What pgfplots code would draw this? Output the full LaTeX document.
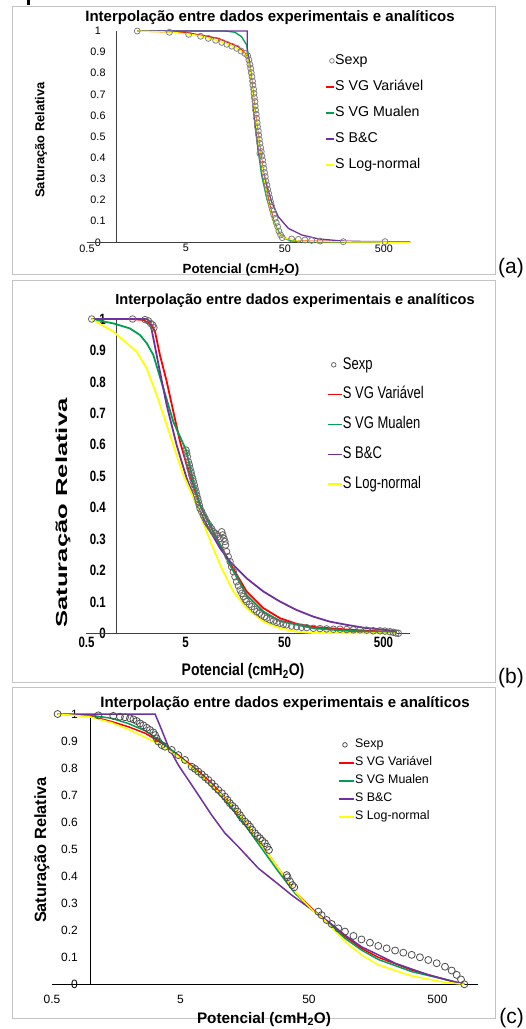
\documentclass[border=0pt]{standalone}
\usepackage{fontspec}
\setmainfont{Liberation Sans}
\usepackage{graphicx}
\usepackage{pgfplots}
\pgfplotsset{compat=1.18}

\definecolor{vgred}{HTML}{FF0000}
\definecolor{vggreen}{HTML}{00A050}
\definecolor{bcpurple}{HTML}{7030A0}
\definecolor{lnyellow}{HTML}{FFFF00}
\definecolor{framegray}{HTML}{C4C4C4}
\definecolor{axgray}{HTML}{404040}
\definecolor{expgray}{HTML}{808080}

\newcommand{\fs}[1]{\fontsize{#1}{#1}\selectfont}
\newcommand{\tall}[1]{\scalebox{1}[1.3]{#1}}

\pgfplotsset{
  sexpleg/.style={legend image code/.code={\draw[##1, mark size=2.3pt] plot coordinates {(6pt,0pt)};}},
  lineleg/.style={legend image code/.code={\draw[##1, line width=1.4pt] (0pt,0pt) -- (#1,0pt);}},
}

\begin{document}
\begin{tikzpicture}[x=1pt,y=1pt]
\useasboundingbox (0,0) rectangle (526,-1029);

% bit of the caption line above, cut off by the page edge
\fill[black] (26.5,0) rectangle (29.5,-4.5);

% frames
\draw[framegray, line width=1pt] (12.7,-6) rectangle (495.5,-274.5);
\draw[framegray, line width=1pt] (12.7,-280.7) rectangle (495.5,-682.2);
\draw[framegray, line width=1pt] (12.7,-687.3) rectangle (495.5,-1018.3);

%%%%%%%%%%%%%%%%%%%% (a)
\begin{axis}[
  xmode=log, scale only axis, enlargelimits=false, clip=false,
  at={(87pt,-242.3pt)}, anchor=south west,
  width=323pt, height=211.3pt, xmin=0.5, xmax=916, ymin=0, ymax=1,
  axis line style={draw=none}, major tick length=0pt, minor tick length=0pt,
  xminorticks=false, yminorticks=false,
  xtick={0.5,5,50,500}, xticklabels={0.5,5,50,500},
  ytick={0,0.1,0.2,0.3,0.4,0.5,0.6,0.7,0.8,0.9,1},
  yticklabels={0,0.1,0.2,0.3,0.4,0.5,0.6,0.7,0.8,0.9,1},
  yticklabel style={font=\fs{10.8}, anchor=center, inner sep=0pt, xshift=11pt},
  xticklabel style={font=\fs{10.8}, anchor=north, inner sep=0pt, yshift=-2pt},
  legend cell align=left, lineleg=8pt,
  legend style={at={(0.737,0.891)}, anchor=north west, draw=none, fill=none,
    font=\fs{14.2}, row sep=12.7pt, inner sep=0pt, column sep=0.5pt,
    nodes={inner sep=0pt, text height=10.2pt, text depth=3.1pt}},
]
\draw[axgray, line width=1.2pt] (axis cs:0.5,0) -- (axis cs:916,0);
\draw[axgray, line width=1.2pt] (axis cs:1,0) -- (axis cs:1,1);

\addplot[only marks, mark=o, mark size=3pt, color=expgray, mark options={line width=0.8pt}, sexpleg] coordinates {
(1.61,1.0)(3.40,0.994)(5.32,0.984)(7.03,0.975)(8.41,0.965)(9.97,0.956)(11.5,0.946)
(12.9,0.937)(14.5,0.928)(16.3,0.918)(18.0,0.905)(19.7,0.894)(21.0,0.883)(21.6,0.863)
(22.1,0.842)(22.5,0.823)(22.8,0.803)(23.2,0.784)(23.5,0.763)(23.7,0.744)(24.1,0.724)
(24.3,0.705)(24.5,0.685)(24.9,0.666)(25.0,0.645)(25.2,0.626)(25.6,0.606)(25.8,0.587)
(26.2,0.566)(26.4,0.547)(26.9,0.527)(27.1,0.508)(27.5,0.487)(27.9,0.468)(28.4,0.448)
(27.9,0.421)(28.8,0.429)(29.2,0.408)(29.7,0.390)(30.2,0.369)(30.6,0.350)(31.1,0.330)
(31.6,0.311)(32.1,0.290)(32.9,0.271)(33.4,0.251)(34.2,0.232)(35.0,0.211)(35.8,0.192)
(36.6,0.172)(37.5,0.153)(38.4,0.132)(39.6,0.113)(40.8,0.093)(42.1,0.074)(43.4,0.053)
(45.2,0.035)(46.9,0.022)(58.4,0.016)(68.2,0.014)(79.6,0.011)(92.9,0.009)(113,0.006)
(194,0.003)(512,0.003)
};
\addlegendentry{Sexp}
\addplot[vgred, line width=1.3pt, mark=none] coordinates {
(1.61,1.0)(4.89,0.994)(10.6,0.965)(16.9,0.926)(20.5,0.886)(22.5,0.807)(24.3,0.666)
(26.2,0.539)(28.4,0.421)(30.6,0.311)(34.4,0.192)(38.6,0.098)(43.4,0.042)(50,0.019)
(68.2,0.006)(916,0.0)
};
\addlegendentry{S VG Variável}
\addplot[vggreen, line width=1.3pt, mark=none] coordinates {
(1.61,1.0)(12.4,1.0)(15.6,0.994)(18.2,0.973)(20.5,0.934)(21.6,0.871)(23.0,0.744)
(24.9,0.587)(26.9,0.429)(29.0,0.319)(32.7,0.208)(36.6,0.129)(41.2,0.066)(46.3,0.027)
(54.1,0.011)(68.2,0.003)(916,0.0)
};
\addlegendentry{S VG Mualen}
\addplot[bcpurple, line width=1.3pt, mark=none] coordinates {
(1.61,1.0)(20.8,1.0)(20.8,0.902)(22.1,0.839)(23.4,0.713)(24.9,0.555)(26.9,0.429)
(29.0,0.366)(32.7,0.271)(36.6,0.192)(42.8,0.121)(54.1,0.066)(73.6,0.035)(109,0.016)
(202,0.005)(916,0.002)
};
\addlegendentry{S B\&C}
\addplot[lnyellow, line width=1.3pt, mark=none] coordinates {
(1.61,1.0)(3.40,0.995)(5.32,0.986)(7.20,0.976)(9.97,0.957)(14.5,0.931)(18.2,0.905)
(20.5,0.886)(22.1,0.823)(23.9,0.681)(25.8,0.555)(27.9,0.429)(30.2,0.319)(33.9,0.192)
(38.1,0.098)(42.8,0.042)(50,0.019)(68.2,0.006)(109,0.003)(916,0.0)
};
\addlegendentry{S Log-normal}
\end{axis}

%%%%%%%%%%%%%%%%%%%% (b)
\begin{axis}[
  xmode=log, scale only axis, enlargelimits=false, clip=false,
  at={(86.5pt,-633.3pt)}, anchor=south west,
  width=323.5pt, height=314.3pt, xmin=0.5, xmax=926, ymin=0, ymax=1,
  axis line style={draw=none}, major tick length=0pt, minor tick length=0pt,
  xminorticks=false, yminorticks=false,
  xtick={0.5,5,50,500}, xticklabels={0.5,5,50,500},
  ytick={0,0.1,0.2,0.3,0.4,0.5,0.6,0.7,0.8,0.9,1},
  yticklabels={0,0.1,0.2,0.3,0.4,0.5,0.6,0.7,0.8,0.9,1},
  yticklabel style={font=\fs{11.5}\bfseries, anchor=east, inner sep=0pt, xshift=19.5pt, yscale=1.3},
  xticklabel style={font=\fs{11.5}\bfseries, anchor=north, inner sep=0pt, yshift=-3.7pt, yscale=1.3},
  legend cell align=left, lineleg=14pt,
  legend style={at={(0.743,0.878)}, anchor=north west, draw=none, fill=none,
    font=\fs{13}, row sep=15.3pt, inner sep=0pt, column sep=0.5pt,
    nodes={inner sep=0pt, text height=11.5pt, text depth=3pt}},
]
\draw[axgray, line width=1.3pt] (axis cs:0.5,0) -- (axis cs:926,0);
\draw[axgray, line width=1.3pt] (axis cs:1,0) -- (axis cs:1,1);

\addplot[only marks, mark=o, mark size=3.3pt, color=black!60, mark options={line width=0.8pt}, sexpleg] coordinates {
(0.564,1.0)(1.46,1.0)(1.95,0.998)(2.11,0.994)(2.22,0.986)(2.33,0.981)(2.40,0.972)
(5.06,0.583)(5.14,0.573)(5.22,0.562)(5.34,0.546)(5.47,0.536)(5.55,0.525)(5.68,0.514)
(5.77,0.504)(5.91,0.493)(6.00,0.483)(6.14,0.472)(6.24,0.461)(6.38,0.451)(6.48,0.440)
(6.64,0.429)(6.74,0.419)(6.90,0.408)(7.01,0.398)(7.28,0.387)(7.57,0.376)(7.87,0.366)
(8.18,0.355)(8.51,0.347)(8.84,0.339)(9.19,0.332)(9.55,0.323)(9.93,0.318)(10.3,0.313)
(10.7,0.308)(11.2,0.302)(11.6,0.323)(11.9,0.313)(12.2,0.302)(12.5,0.292)(12.7,0.281)
(13.0,0.260)(13.5,0.244)(14.1,0.228)(14.6,0.212)(15.2,0.196)(15.8,0.180)(16.4,0.164)
(17.1,0.151)(17.8,0.138)(18.5,0.127)(19.2,0.117)(20.0,0.108)(20.7,0.101)(22.1,0.092)
(23.3,0.085)(24.8,0.076)(26.2,0.069)(27.9,0.064)(29.4,0.058)(31.3,0.053)(33.0,0.048)
(35.7,0.043)(38.6,0.039)(41.7,0.035)(45.0,0.032)(48.7,0.029)(52.6,0.027)(59.1,0.023)
(66.4,0.021)(74.5,0.019)(83.7,0.018)(97.8,0.016)(114,0.015)(133,0.014)(156,0.013)
(182,0.013)(212,0.012)(248,0.011)(289,0.011)(338,0.010)(395,0.008)(461,0.008)
(518,0.007)(582,0.005)(629,0.003)(669,0.001)(706,0.0)
};
\addlegendentry{\tall{Sexp}}
\addplot[vgred, line width=1.8pt, mark=none] coordinates {
(0.564,1.0)(1.375,1.0)(1.875,0.997)(2.28,0.981)(2.46,0.960)(2.76,0.885)(3.23,0.801)
(3.77,0.705)(4.40,0.610)(5.14,0.536)(6.00,0.472)(7.01,0.408)(9.55,0.323)(14.1,0.223)
(20.7,0.133)(30.6,0.080)(45.0,0.048)(66.4,0.030)(97.8,0.020)(212,0.012)(679,0.003)
};
\addlegendentry{\tall{S VG Variável}}
\addplot[vggreen, line width=1.8pt, mark=none] coordinates {
(0.564,1.0)(0.933,0.986)(1.375,0.970)(1.735,0.949)(2.03,0.923)(2.37,0.885)(2.99,0.779)
(3.77,0.673)(5.06,0.583)(6.00,0.483)(7.01,0.408)(9.55,0.323)(14.1,0.217)(20.7,0.122)
(30.6,0.069)(45.0,0.039)(97.8,0.016)(212,0.008)(679,0.003)
};
\addlegendentry{\tall{S VG Mualen}}
\addplot[bcpurple, line width=1.8pt, mark=none] coordinates {
(0.564,1.0)(2.03,1.0)(2.19,0.992)(2.37,0.938)(2.76,0.832)(3.23,0.726)(4.07,0.599)
(5.14,0.493)(6.48,0.408)(8.18,0.345)(11.2,0.270)(14.1,0.228)(20.7,0.175)(30.6,0.133)
(45.0,0.101)(66.4,0.074)(97.8,0.053)(144,0.037)(212,0.027)(313,0.018)(679,0.007)
};
\addlegendentry{\tall{S B\&C}}
\addplot[lnyellow, line width=1.8pt, mark=none] coordinates {
(0.564,1.0)(0.933,0.960)(1.606,0.896)(2.03,0.843)(2.56,0.758)(3.23,0.663)(4.07,0.567)
(4.75,0.504)(6.48,0.408)(8.18,0.323)(11.2,0.217)(15.2,0.133)(20.7,0.080)(30.6,0.037)
(45.0,0.016)(66.4,0.005)(97.8,0.001)(679,0.0)
};
\addlegendentry{\tall{S Log-normal}}
\end{axis}

%%%%%%%%%%%%%%%%%%%% (c)
\begin{axis}[
  xmode=log, scale only axis, enlargelimits=false, clip=false,
  at={(52pt,-984.3pt)}, anchor=south west,
  width=426.3pt, height=270.3pt, xmin=0.5, xmax=1039, ymin=0, ymax=1,
  axis line style={draw=none}, major tick length=0pt, minor tick length=0pt,
  xminorticks=false, yminorticks=false,
  xtick={0.5,5,50,500}, xticklabels={0.5,5,50,500},
  ytick={0,0.1,0.2,0.3,0.4,0.5,0.6,0.7,0.8,0.9,1},
  yticklabels={0,0.1,0.2,0.3,0.4,0.5,0.6,0.7,0.8,0.9,1},
  yticklabel style={font=\fs{12}, anchor=east, inner sep=0pt, xshift=26pt},
  xticklabel style={font=\fs{12}, anchor=north, inner sep=0pt, yshift=-10.7pt},
  legend cell align=left, lineleg=15pt,
  legend style={at={(0.671,0.908)}, anchor=north west, draw=none, fill=none,
    font=\fs{12.4}, row sep=6.4pt, inner sep=0pt, column sep=0.5pt,
    nodes={inner sep=0pt, text height=8.9pt, text depth=2.7pt}},
]
\draw[black, line width=1.2pt] (axis cs:0.5,0) -- (axis cs:1039,0);
\draw[black, line width=1.2pt] (axis cs:1,0) -- (axis cs:1,1);

\addplot[only marks, mark=o, mark size=3.5pt, color=black!70, mark options={line width=0.8pt}, sexpleg] coordinates {
(0.553,1.0)(1.147,0.995)(1.50,0.993)(1.69,0.990)(1.85,0.988)(2.02,0.984)(2.15,0.980)
(2.28,0.974)(2.42,0.965)(2.57,0.958)(2.73,0.949)(2.89,0.941)(3.07,0.932)(3.17,0.922)
(3.26,0.910)(3.36,0.898)(3.57,0.885)(3.79,0.879)(4.27,0.867)(4.81,0.848)(5.42,0.830)
(6.11,0.805)(6.49,0.797)(6.88,0.787)(7.31,0.777)(7.76,0.766)(8.23,0.756)(8.74,0.744)
(9.28,0.731)(9.85,0.719)(10.5,0.707)(11.1,0.694)(11.6,0.682)(12.1,0.670)(12.7,0.660)
(13.3,0.651)(13.9,0.639)(14.5,0.626)(15.1,0.614)(15.9,0.602)(16.7,0.593)(17.4,0.583)
(18.1,0.571)(19.0,0.559)(19.9,0.549)(20.8,0.540)(21.7,0.531)(22.7,0.522)(23.6,0.509)
(24.4,0.497)(33.5,0.404)(34.1,0.396)(35.6,0.380)(37.1,0.367)(38.4,0.359)
(59.1,0.269)(62.7,0.256)(68.6,0.238)(75.1,0.223)(84.6,0.207)(95.3,0.195)(111,0.179)
(128,0.166)(149,0.154)(173,0.142)(201,0.133)(234,0.125)(271,0.117)(315,0.109)
(365,0.100)(424,0.090)(493,0.078)(572,0.065)(645,0.051)(705,0.035)(762,0.018)(809,0.0)
};
\addlegendentry{Sexp}
\addplot[vgred, line width=1.5pt, mark=none] coordinates {
(0.553,1.0)(0.976,0.993)(1.456,0.972)(1.96,0.953)(2.65,0.929)(3.57,0.893)(4.81,0.848)
(6.49,0.799)(8.74,0.744)(11.8,0.676)(15.9,0.602)(21.4,0.515)(28.9,0.429)(38.9,0.343)
(52.4,0.281)(62.7,0.250)(84.6,0.195)(128,0.133)(173,0.100)(315,0.053)(572,0.018)(809,0.0)
};
\addlegendentry{S VG Variável}
\addplot[vggreen, line width=1.5pt, mark=none] coordinates {
(0.553,1.0)(0.976,0.996)(1.456,0.984)(1.96,0.965)(2.65,0.938)(3.57,0.898)(4.81,0.845)
(6.49,0.793)(8.74,0.734)(11.8,0.667)(15.9,0.589)(21.4,0.503)(28.9,0.417)(38.9,0.337)
(52.4,0.277)(66.6,0.236)(95.3,0.170)(128,0.127)(173,0.092)(315,0.047)(572,0.018)(809,0.0)
};
\addlegendentry{S VG Mualen}
\addplot[bcpurple, line width=1.5pt, mark=none] coordinates {
(0.553,1.0)(3.17,1.0)(3.57,0.941)(4.02,0.879)(4.81,0.811)(6.49,0.719)(8.74,0.626)
(11.1,0.559)(14.1,0.509)(20.2,0.429)(28.9,0.370)(36.7,0.330)(57.4,0.263)(70.7,0.232)
(95.3,0.182)(128,0.139)(173,0.109)(234,0.078)(424,0.035)(809,0.0)
};
\addlegendentry{S B\&C}
\addplot[lnyellow, line width=1.5pt, mark=none] coordinates {
(0.553,1.0)(0.976,0.990)(1.456,0.968)(1.96,0.943)(2.65,0.914)(3.57,0.883)(4.81,0.842)
(6.49,0.793)(8.74,0.737)(11.8,0.676)(15.9,0.602)(21.4,0.515)(28.9,0.429)(38.9,0.343)
(52.4,0.277)(66.6,0.236)(95.3,0.158)(128,0.109)(173,0.072)(315,0.031)(572,0.007)(809,0.0)
};
\addlegendentry{S Log-normal}
\end{axis}

% titles
\node[anchor=base, inner sep=0pt, font=\fs{15}\bfseries] at (270,-21) {Interpolação entre dados experimentais e analíticos};
\node[anchor=base, inner sep=0pt, font=\fs{14.6}\bfseries] at (295,-304) {Interpolação entre dados experimentais e analíticos};
\node[anchor=base, inner sep=0pt, font=\fs{15}\bfseries] at (285,-707) {Interpolação entre dados experimentais e analíticos};
% x labels
\node[anchor=base, inner sep=0pt, font=\fs{13.3}\bfseries] at (241,-273.3) {Potencial (cmH\textsubscript{2}O)};
\node[anchor=base, inner sep=0pt, font=\fs{14}\bfseries] at (243,-675.7) {\scalebox{1}[1.2]{Potencial (cmH\textsubscript{2}O)}};
\node[anchor=base, inner sep=0pt, font=\fs{15.3}\bfseries] at (264,-1023) {Potencial (cmH\textsubscript{2}O)};
% y labels
\node[rotate=90, inner sep=0pt, font=\fs{12.9}\bfseries] at (41,-140) {Saturação Relativa};
\node[rotate=90, inner sep=0pt, font=\fs{16}\bfseries] at (63,-513) {\scalebox{1.6}[1]{Saturação Relativa}};
\node[rotate=90, inner sep=0pt, font=\fs{16.3}\bfseries] at (42,-850) {Saturação Relativa};
% panel letters
\node[anchor=base east, inner sep=0pt, font=\fs{21}] at (524,-273) {(a)};
\node[anchor=base east, inner sep=0pt, font=\fs{21}] at (524,-683) {(b)};
\node[anchor=base east, inner sep=0pt, font=\fs{21}] at (524,-1023) {(c)};
\end{tikzpicture}
\end{document}
